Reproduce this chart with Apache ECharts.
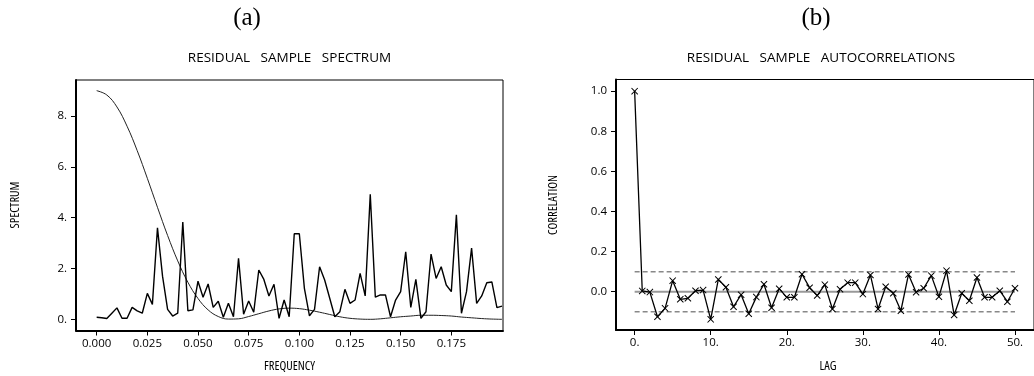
<!DOCTYPE html>
<html>
<head>
<meta charset="utf-8">
<script src="https://cdn.jsdelivr.net/npm/echarts@6/dist/echarts.min.js"></script>
<style>
html,body{margin:0;padding:0;background:#fff;}
#chart{width:1034px;height:376px;}
</style>
</head>
<body>
<div id="chart"></div>
<script>
// ---- Data ----
const spectrumFreq = [0.0000,0.0025,0.0050,0.0075,0.0100,0.0125,0.0150,0.0175,0.0200,0.0225,
  0.0250,0.0275,0.0300,0.0325,0.0350,0.0375,0.0400,0.0425,0.0450,0.0475,
  0.0500,0.0525,0.0550,0.0575,0.0600,0.0625,0.0650,0.0675,0.0700,0.0725,
  0.0750,0.0775,0.0800,0.0825,0.0850,0.0875,0.0900,0.0925,0.0950,0.0975,
  0.1000,0.1025,0.1050,0.1075,0.1100,0.1125,0.1150,0.1175,0.1200,0.1225,
  0.1250,0.1275,0.1300,0.1325,0.1350,0.1375,0.1400,0.1425,0.1450,0.1475,
  0.1500,0.1525,0.1550,0.1575,0.1600,0.1625,0.1650,0.1675,0.1700,0.1725,
  0.1750,0.1775,0.1800,0.1825,0.1850,0.1875,0.1900,0.1925,0.1950,0.1975,0.2000];
const spectrumValues = [0.08,0.06,0.03,0.24,0.45,0.04,0.04,0.47,0.33,0.24,
  1.02,0.59,3.60,1.70,0.39,0.13,0.24,3.83,0.34,0.37,
  1.50,0.87,1.39,0.47,0.71,0.08,0.63,0.10,2.40,0.20,
  0.72,0.28,1.94,1.57,0.92,1.38,0.04,0.76,0.10,3.37,
  3.37,1.22,0.14,0.39,2.07,1.55,0.83,0.10,0.30,1.18,
  0.63,0.76,1.81,0.92,4.92,0.87,0.96,0.96,0.10,0.76,
  1.09,2.66,0.47,1.57,0.04,0.30,2.57,1.61,2.07,1.35,
  1.09,4.11,0.24,1.09,2.80,0.63,0.92,1.44,1.47,0.46,0.52];
const windowFreq = [0.000,0.005,0.010,0.015,0.020,0.025,0.030,0.035,0.040,0.045,
  0.050,0.055,0.060,0.065,0.070,0.075,0.080,0.085,0.090,0.095,
  0.100,0.105,0.110,0.115,0.120,0.125,0.130,0.135,0.140,0.145,
  0.150,0.155,0.160,0.165,0.170,0.175,0.180,0.185,0.190,0.195,0.200];
const windowValues = [9.00,8.83,8.36,7.60,6.64,5.55,4.41,3.30,2.30,1.46,
  0.82,0.37,0.11,0.01,0.02,0.11,0.22,0.33,0.41,0.44,
  0.42,0.36,0.28,0.19,0.10,0.04,0.01,0.00,0.02,0.06,
  0.10,0.13,0.16,0.16,0.15,0.13,0.09,0.06,0.03,0.01,0.00];
const lags = [0,1,2,3,4,5,6,7,8,9,10,11,12,13,14,15,16,17,18,19,20,21,22,23,24,25,
  26,27,28,29,30,31,32,33,34,35,36,37,38,39,40,41,42,43,44,45,46,47,48,49,50];
const acfValues = [1.000,0.004,-0.002,-0.125,-0.083,0.055,-0.038,-0.033,0.005,0.008,
  -0.138,0.061,0.022,-0.075,-0.015,-0.110,-0.027,0.037,-0.080,0.015,
  -0.028,-0.028,0.087,0.020,-0.019,0.035,-0.086,0.012,0.045,0.045,
  -0.012,0.083,-0.086,0.025,-0.008,-0.095,0.086,-0.003,0.017,0.080,
  -0.025,0.105,-0.116,-0.008,-0.045,0.071,-0.028,-0.028,0.005,-0.050,0.017];
const bandUpper = 0.1;
const bandLower = -0.1;
const bandLagRange = [0, 50];

const freqTicks = [0,0.025,0.05,0.075,0.1,0.125,0.15,0.175];
const freqTickLabels = ['0.000','0.025','0.050','0.075','0.100','0.125','0.150','0.175'];
const specTicks = [0,2,4,6,8];
const specTickLabels = ['0.','2.','4.','6.','8.'];
const lagTicks = [0,10,20,30,40,50];
const lagTickLabels = ['0.','10.','20.','30.','40.','50.'];
const corrTicks = [0,0.2,0.4,0.6,0.8,1.0];
const corrTickLabels = ['0.0','0.2','0.4','0.6','0.8','1.0'];

// ---- helpers ----
function labelFor(ticks, labels) {
  return function (v) {
    for (let i = 0; i < ticks.length; i++) if (Math.abs(ticks[i] - v) < 1e-7) return labels[i];
    return '';
  };
}
function pairs(xs, ys) { return xs.map((x, i) => [x, ys[i]]); }

const NAME_FONT = "condensed 12.5px 'Open Sans'";
const TITLE_FONT = "13.5px 'Open Sans'";
const SERIF = "'Liberation Serif','DejaVu Serif',serif";

function axisCommon(ticks, labels, margin) {
  return {
    axisLine: { show: true, onZero: false, lineStyle: { color: '#000', width: 2 } },
    axisTick: { show: true, length: 5, customValues: ticks, lineStyle: { color: '#000', width: 1 } },
    axisLabel: { show: true, margin: margin, customValues: ticks, formatter: labelFor(ticks, labels),
      color: '#000', fontFamily: "'Open Sans'", fontWeight: 'normal', fontSize: 11.5 },
    splitLine: { show: false }
  };
}

const chart = echarts.init(document.getElementById('chart'), null, { renderer: 'canvas' });
const option = {
  animation: false,
  backgroundColor: '#fff',
  grid: [
    { left: 76, top: 80, width: 427, height: 250.5, show: true, borderColor: '#000', borderWidth: 1, containLabel: false },
    { left: 616, top: 79.5, width: 427, height: 250.5, show: true, borderColor: '#000', borderWidth: 1, containLabel: false }
  ],
  xAxis: [
    Object.assign({ type: 'value', gridIndex: 0, min: -0.0102, max: 0.2005 }, axisCommon(freqTicks, freqTickLabels, 7)),
    Object.assign({ type: 'value', gridIndex: 1, min: -2.45, max: 52.5 }, axisCommon(lagTicks, lagTickLabels, 7))
  ],
  yAxis: [
    Object.assign({ type: 'value', gridIndex: 0, min: -0.44, max: 9.42 }, axisCommon(specTicks, specTickLabels, 9)),
    Object.assign({ type: 'value', gridIndex: 1, min: -0.191, max: 1.058 }, axisCommon(corrTicks, corrTickLabels, 9))
  ],
  series: [
    { type: 'line', xAxisIndex: 0, yAxisIndex: 0, data: pairs(windowFreq, windowValues), smooth: 0.4,
      showSymbol: false, lineStyle: { color: '#222', width: 1 }, z: 2 },
    { type: 'line', xAxisIndex: 0, yAxisIndex: 0, data: pairs(spectrumFreq, spectrumValues),
      showSymbol: false, lineStyle: { color: '#000', width: 1.4 }, z: 3 },
    { type: 'line', xAxisIndex: 1, yAxisIndex: 1, data: [[bandLagRange[0], 0], [bandLagRange[1], 0]],
      showSymbol: false, lineStyle: { color: '#999', width: 2 }, z: 1 },
    { type: 'line', xAxisIndex: 1, yAxisIndex: 1, data: [[bandLagRange[0], bandUpper], [bandLagRange[1], bandUpper]],
      showSymbol: false, lineStyle: { color: '#888', width: 1.5, type: [5, 3] }, z: 1 },
    { type: 'line', xAxisIndex: 1, yAxisIndex: 1, data: [[bandLagRange[0], bandLower], [bandLagRange[1], bandLower]],
      showSymbol: false, lineStyle: { color: '#888', width: 1.5, type: [5, 3] }, z: 1 },
    { type: 'line', xAxisIndex: 1, yAxisIndex: 1, data: pairs(lags, acfValues),
      symbol: 'path://M0,1L1,0L5,4L9,0L10,1L6,5L10,9L9,10L5,6L1,10L0,9L4,5Z', symbolSize: 7, showSymbol: true,
      itemStyle: { color: '#000' }, lineStyle: { color: '#000', width: 1.3 }, z: 3 }
  ],
  graphic: [
    { type: 'text', x: 247, y: 18, style: { text: '(a)', font: "25px " + SERIF, fill: '#000', align: 'center', verticalAlign: 'middle' } },
    { type: 'text', x: 816, y: 18, style: { text: '(b)', font: "25px " + SERIF, fill: '#000', align: 'center', verticalAlign: 'middle' } },
    { type: 'text', x: 289.5, y: 58, style: { text: 'RESIDUAL   SAMPLE   SPECTRUM', font: TITLE_FONT, fill: '#000', align: 'center', verticalAlign: 'middle' } },
    { type: 'text', x: 821, y: 58, style: { text: 'RESIDUAL   SAMPLE   AUTOCORRELATIONS', font: TITLE_FONT, fill: '#000', align: 'center', verticalAlign: 'middle' } },
    { type: 'text', x: 289.5, y: 366, style: { text: 'FREQUENCY', font: NAME_FONT, fill: '#000', align: 'center', verticalAlign: 'middle' } },
    { type: 'text', x: 828, y: 366, style: { text: 'LAG', font: NAME_FONT, fill: '#000', align: 'center', verticalAlign: 'middle' } },
    { type: 'text', x: 15, y: 205, rotation: Math.PI / 2, style: { text: 'SPECTRUM', font: NAME_FONT, fill: '#000', align: 'center', verticalAlign: 'middle' } },
    { type: 'text', x: 553, y: 205, rotation: Math.PI / 2, style: { text: 'CORRELATION', font: NAME_FONT, fill: '#000', align: 'center', verticalAlign: 'middle' } }
  ]
};
chart.setOption(option);
</script>
</body>
</html>
